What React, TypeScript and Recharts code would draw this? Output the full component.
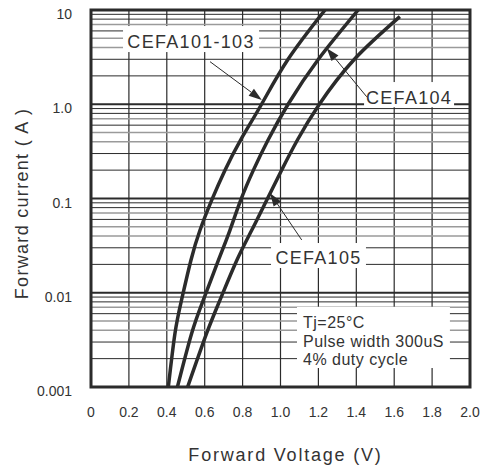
import React from "react";
import {
  LineChart,
  Line,
  XAxis,
  YAxis,
  CartesianGrid,
  ReferenceLine,
  ReferenceArea,
  Label,
} from "recharts";

const FONT = '"Liberation Sans", Arial, sans-serif';
const INK = "#2b2b2b";
const TEXT = "#333";

// forward current steps (A) used for reading the curves
const currents = [0.001, 0.0037, 0.0084, 0.022, 0.046, 0.096, 0.2, 0.42, 1.0, 3.0, 10];
const currents105 = [0.001, 0.0037, 0.0084, 0.022, 0.046, 0.096, 0.2, 0.42, 1.0, 3.0, 8.5];

// forward voltage (V)
const volts101 = [0.408, 0.443, 0.478, 0.527, 0.575, 0.637, 0.707, 0.79, 0.9, 1.04, 1.235];
const volts104 = [0.456, 0.531, 0.593, 0.672, 0.733, 0.79, 0.857, 0.935, 1.04, 1.2, 1.41];
const volts105 = [0.51, 0.61, 0.681, 0.769, 0.848, 0.927, 1.006, 1.09, 1.205, 1.39, 1.63];

const xTicks = [0, 0.2, 0.4, 0.6, 0.8, 1.0, 1.2, 1.4, 1.6, 1.8, 2.0];
const xTickLabels = ["0", "0.2", "0.4", "0.6", "0.8", "1.0", "1.2", "1.4", "1.6", "1.8", "2.0"];
const yTicks = [0.001, 0.01, 0.1, 1, 10];
const yTickLabels = ["0.001", "0.01", "0.1", "1.0", "10"];

const innerDecades = [0.01, 0.1, 1];
const darkSteps = [2, 3, 6, 8, 9];
const greySteps = [4, 5, 7];
const minorDark = yTicks.slice(0, 4).flatMap((d) => darkSteps.map((s) => d * s));
const minorGrey = yTicks.slice(0, 4).flatMap((d) => greySteps.map((s) => d * s));

const toPoints = (volts: number[], amps: number[]) =>
  volts.map((v, i) => ({ v, a: amps[i] }));

const data101 = toPoints(volts101, currents);
const data104 = toPoints(volts104, currents);
const data105 = toPoints(volts105, currents105);

function arrowShape(p: any) {
  const { x1, y1, x2, y2 } = p;
  const ang = Math.atan2(y2 - y1, x2 - x1);
  const len = 13;
  const half = 4.5;
  const bx = x2 - len * Math.cos(ang);
  const by = y2 - len * Math.sin(ang);
  const nx = -Math.sin(ang) * half;
  const ny = Math.cos(ang) * half;
  return (
    <g>
      <line x1={x1} y1={y1} x2={bx} y2={by} stroke={INK} strokeWidth={1} />
      <polygon
        points={`${x2},${y2} ${bx + nx},${by + ny} ${bx - nx},${by - ny}`}
        fill={INK}
      />
    </g>
  );
}

// label boxes are drawn from a diagonal segment (top-left -> bottom-right)
function tagBox(text: string, baseline: number) {
  return (p: any) => {
    const x = Math.min(p.x1, p.x2);
    const y = Math.min(p.y1, p.y2);
    const w = Math.abs(p.x2 - p.x1);
    const h = Math.abs(p.y2 - p.y1);
    return (
      <g>
        <rect x={x} y={y} width={w} height={h} fill="#fff" />
        <text
          x={x + w / 2}
          y={y + baseline}
          textAnchor="middle"
          fontFamily={FONT}
          fontSize={18}
          letterSpacing={1.3}
          fill={TEXT}
        >
          {text}
        </text>
      </g>
    );
  };
}

const noteLines = ["Tj=25\u00B0C", "Pulse width 300uS", "4% duty cycle"];

function noteBox(p: any) {
  const x = Math.min(p.x1, p.x2);
  const y = Math.min(p.y1, p.y2);
  const w = Math.abs(p.x2 - p.x1);
  const h = Math.abs(p.y2 - p.y1);
  return (
    <g>
      <rect x={x} y={y} width={w} height={h} fill="#fff" />
      {noteLines.map((t, k) => (
        <text
          key={k}
          x={x + 6}
          y={y + 21 + k * 18.5}
          fontFamily={FONT}
          fontSize={16}
          letterSpacing={0.5}
          fill={TEXT}
        >
          {t}
        </text>
      ))}
    </g>
  );
}

function XTick(p: any) {
  const i = xTicks.indexOf(p.payload.value);
  return (
    <text x={p.x} y={p.y + 30} textAnchor="middle" fontFamily={FONT} fontSize={14} fill={TEXT}>
      {xTickLabels[i]}
    </text>
  );
}

function YTick(p: any) {
  const i = yTicks.indexOf(p.payload.value);
  return (
    <text x={p.x - 19} y={p.y + 9} textAnchor="end" fontFamily={FONT} fontSize={14} fill={TEXT}>
      {yTickLabels[i]}
    </text>
  );
}

export default function App() {
  return (
    <div style={{ position: "absolute", left: 0, top: 0, background: "#fff" }}>
      <LineChart
        width={486}
        height={472}
        margin={{ top: 10, right: 16, bottom: 45, left: 31 }}
      >
        <CartesianGrid horizontal={false} stroke={INK} strokeWidth={1.2} />
        <XAxis
          dataKey="v"
          type="number"
          domain={[0, 2]}
          ticks={xTicks}
          axisLine={false}
          tickLine={false}
          tickSize={0}
          tickMargin={0}
          height={40}
          tick={XTick}
          allowDataOverflow
        >
          <Label
            content={(lp: any) => (
              <text
                x={lp.viewBox.x + lp.viewBox.width / 2 + 5}
                y={461}
                textAnchor="middle"
                fontFamily={FONT}
                fontSize={18}
                letterSpacing={1.8}
                fill={TEXT}
              >
                Forward Voltage (V)
              </text>
            )}
          />
        </XAxis>
        <YAxis
          dataKey="a"
          type="number"
          scale="log"
          domain={[0.001, 10]}
          ticks={yTicks}
          axisLine={false}
          tickLine={false}
          tickSize={0}
          tickMargin={0}
          width={60}
          tick={YTick}
          allowDataOverflow
        >
          <Label
            content={(lp: any) => {
              const cy = lp.viewBox.y + lp.viewBox.height / 2 + 5;
              return (
                <text
                  x={22}
                  y={cy}
                  transform={`rotate(-90 22 ${cy})`}
                  textAnchor="middle"
                  dominantBaseline="central"
                  fontFamily={FONT}
                  fontSize={18}
                  letterSpacing={1.3}
                  fill={TEXT}
                >
                  Forward current ( A )
                </text>
              );
            }}
          />
        </YAxis>

        {minorGrey.map((y) => (
          <ReferenceLine key={`g${y}`} y={y} stroke="#9a9a9a" strokeWidth={1.5} zIndex={-90} />
        ))}
        {minorDark.map((y) => (
          <ReferenceLine key={`d${y}`} y={y} stroke={INK} strokeWidth={1} zIndex={-90} />
        ))}
        {innerDecades.map((y) => (
          <ReferenceLine key={`m${y}`} y={y} stroke={INK} strokeWidth={2.2} zIndex={-90} />
        ))}

        <ReferenceLine segment={[{ x: 0.169, y: 6.76 }, { x: 0.887, y: 3.58 }]} shape={tagBox("CEFA101-103", 22)} zIndex={-80} />
        <ReferenceLine segment={[{ x: 1.441, y: 1.72 }, { x: 1.916, y: 0.93 }]} shape={tagBox("CEFA104", 22)} zIndex={-80} />
        <ReferenceLine segment={[{ x: 0.95, y: 0.0337 }, { x: 1.451, y: 0.0183 }]} shape={tagBox("CEFA105", 21)} zIndex={-80} />
        <ReferenceLine segment={[{ x: 1.087, y: 0.00706 }, { x: 1.894, y: 0.00159 }]} shape={noteBox} zIndex={-80} />

        <Line data={data101} dataKey="a" type="natural" stroke={INK} strokeWidth={3.5} dot={false} isAnimationActive={false} />
        <Line data={data104} dataKey="a" type="natural" stroke={INK} strokeWidth={3.5} dot={false} isAnimationActive={false} />
        <Line data={data105} dataKey="a" type="natural" stroke={INK} strokeWidth={3.5} dot={false} isAnimationActive={false} />

        <ReferenceLine segment={[{ x: 0.628, y: 2.83 }, { x: 0.901, y: 1.11 }]} shape={arrowShape} />
        <ReferenceLine segment={[{ x: 1.455, y: 1.2 }, { x: 1.244, y: 3.93 }]} shape={arrowShape} />
        <ReferenceLine segment={[{ x: 1.112, y: 0.0363 }, { x: 0.945, y: 0.114 }]} shape={arrowShape} />

        <ReferenceArea x1={0} x2={2} y1={0.001} y2={10} fill="none" stroke={INK} strokeWidth={3} fillOpacity={0} />
      </LineChart>
    </div>
  );
}
